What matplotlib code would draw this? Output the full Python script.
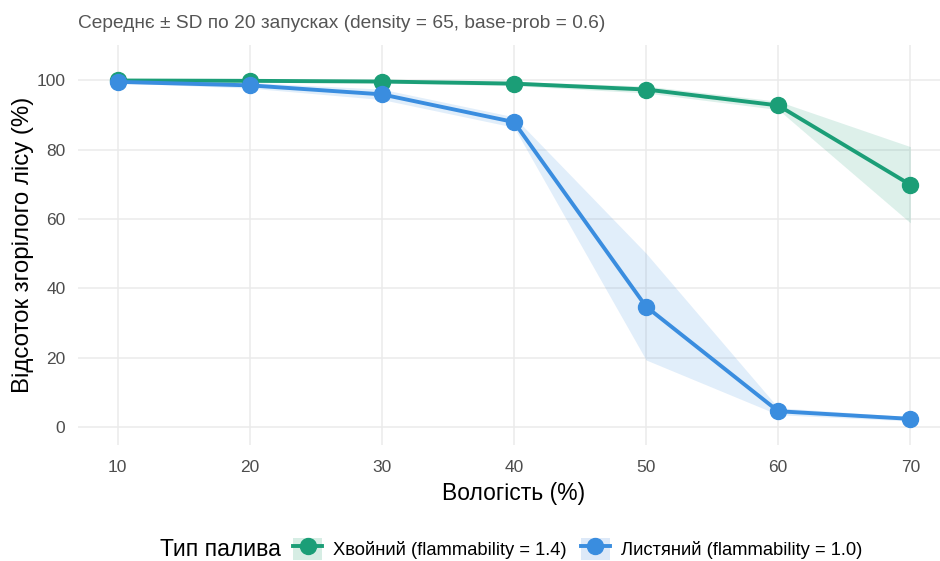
import matplotlib
matplotlib.use("Agg")
import numpy as np
from matplotlib import pyplot as plt
from matplotlib.lines import Line2D
from matplotlib.patches import Patch
from matplotlib.legend_handler import HandlerTuple

plt.rcParams["font.family"] = ["Liberation Sans", "DejaVu Sans"]

# дані
vologist = [10, 20, 30, 40, 50, 60, 70]
hvoyni_mean = [100.0, 99.9, 99.7, 99.1, 97.4, 92.8, 69.9]
hvoyni_sd = [0.0, 0.2, 0.4, 0.6, 1.0, 1.2, 11.0]
lystiani_mean = [99.6, 98.6, 96.0, 88.0, 34.7, 4.5, 2.3]
lystiani_sd = [0.3, 0.8, 1.5, 1.5, 15.4, 1.0, 0.6]

green = "#1b9e77"
blue = "#3a8ddf"
fill_green = "#d6ede4"
fill_blue = "#dde9f8"

fig = plt.figure(figsize=(9.4, 5.61), dpi=100)
ax = fig.add_axes([78 / 940, 116 / 561, 872 / 940, 400 / 561])

for mean, sd, col in [(hvoyni_mean, hvoyni_sd, green), (lystiani_mean, lystiani_sd, blue)]:
    m = np.array(mean)
    s = np.array(sd)
    ax.fill_between(vologist, m - s, m + s, color=col, alpha=0.15, lw=0, zorder=2)

ax.plot(vologist, hvoyni_mean, color=green, lw=2.8, marker="o", ms=11.5, zorder=3)
ax.plot(vologist, lystiani_mean, color=blue, lw=2.8, marker="o", ms=11.5, zorder=4)

ax.set_xlim(7, 73)
ax.set_ylim(-5.25, 110.25)
ax.set_xticks(vologist)
ax.set_yticks([0, 20, 40, 60, 80, 100])
ax.grid(True, color="#ebebeb", lw=1.1)
ax.set_axisbelow(True)
for sp in ax.spines.values():
    sp.set_visible(False)
ax.tick_params(length=0, labelsize=12.5, labelcolor="#4d4d4d")
ax.tick_params(axis="x", pad=11)
ax.tick_params(axis="y", pad=9)

ax.set_xlabel("Вологість (%)", fontsize=16.5, color="black", labelpad=5)
ax.set_ylabel("Відсоток згорілого лісу (%)", fontsize=17.3, color="black", labelpad=2)

fig.text(78 / 940, 1 - 24 / 561, "Середнє ± SD по 20 запусках (density = 65, base-prob = 0.6)",
         fontsize=13.8, color="#555555", va="center", ha="left")

fig.text(160 / 940, 1 - 549 / 561, "Тип палива", fontsize=16.5, va="center", ha="left")
handles = [
    (Patch(facecolor=fill_green, edgecolor="none"),
     Line2D([], [], color=green, lw=2.8, marker="o", ms=11.5)),
    (Patch(facecolor=fill_blue, edgecolor="none"),
     Line2D([], [], color=blue, lw=2.8, marker="o", ms=11.5)),
]
labels = ["Хвойний (flammability = 1.4)", "Листяний (flammability = 1.0)"]
fig.legend(handles, labels, handler_map={tuple: HandlerTuple(ndivide=1, pad=0)},
           loc="center left", bbox_to_anchor=(293 / 940, 1 - 549 / 561), ncol=2,
           frameon=False, fontsize=13.2, handlelength=1.6, handleheight=1.5,
           columnspacing=0.75, handletextpad=0.6, borderaxespad=0, borderpad=0)

fig.savefig("out.png", dpi=100, facecolor="white")
